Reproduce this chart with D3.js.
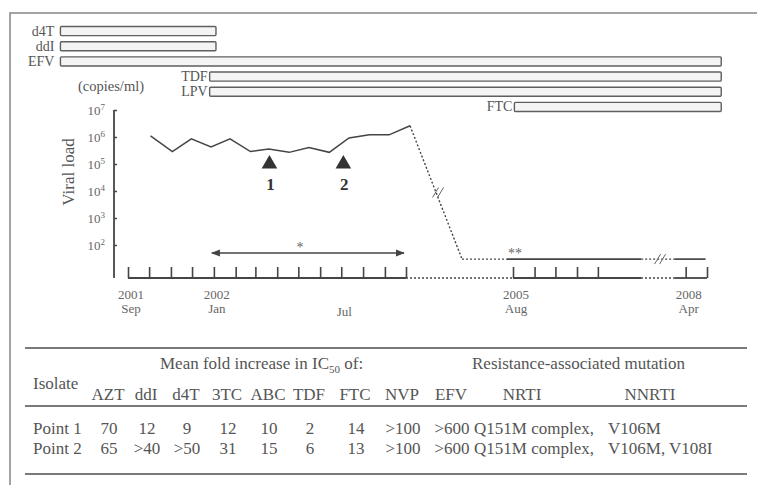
<!DOCTYPE html>
<html><head><meta charset="utf-8">
<script src="https://cdn.jsdelivr.net/npm/d3@7"></script>
<style>
body{margin:0;background:#fff}
svg{display:block}
text{font-family:"Liberation Serif","Times New Roman",serif}
</style>
</head><body>
<svg id="c" width="757" height="485"></svg>
<script>
// ---------- data ----------
const drugs      = ["d4T","ddI","EFV","TDF","LPV","FTC"];
const drugStart  = ["2001-05-28","2001-05-28","2001-05-28","2001-12-26","2001-12-26","2005-08-03"];
const drugEnd    = ["2002-01-04","2002-01-04","2008-05-21","2008-05-21","2008-05-21","2008-05-21"];

const loadDates  = ["2001-10-03","2001-11-03","2001-11-30","2001-12-28","2002-01-24","2002-02-22","2002-03-20",
                    "2002-04-18","2002-05-16","2002-06-14","2002-07-12","2002-08-10","2002-09-07","2002-11-09"];
const loadValues = [1.1e6, 2.9e5, 8.5e5, 4.3e5, 8.5e5, 2.9e5, 3.6e5, 2.7e5, 4.1e5, 2.7e5, 9.2e5, 1.2e6, 1.2e6, 2.6e6];

const undetectDates = ["2004-03-26","2005-06-04","2006-02-04","2008-03-17","2008-04-29"];
const undetectValue = 30;

const isolateLabels = ["1","2"];
const isolateDates  = ["2002-03-21","2002-07-04"];
const isolateLevel  = 1e5;

const arrowPeriod = ["2002-01-01","2002-10-01"];

const yTicks = [1e2,1e3,1e4,1e5,1e6,1e7];
const tickRanges = [["2001-09-01","2002-10-01"],["2005-08-01","2005-12-01"],["2008-04-01","2008-05-01"]];
const labelDates  = ["2001-09-01","2002-01-01","2002-07-01","2005-08-01","2008-04-01"];
const labelYears  = ["2001","2002","","2005","2008"];
const labelMonths = ["Sep","Jan","Jul","Aug","Apr"];

const tableDrugs = ["AZT","ddI","d4T","3TC","ABC","TDF","FTC","NVP","EFV"];
const isolates   = ["Point 1","Point 2"];
const fold1 = ["70","12","9","12","10","2","14",">100",">600"];
const fold2 = ["65",">40",">50","31","15","6","13",">100",">600"];
const nrti  = ["Q151M complex,","Q151M complex,"];
const nnrti = ["V106M","V106M, V108I"];

// ---------- layout ----------
const P = d3.utcParse("%Y-%m-%d");
const svg = d3.select("#c");
const TXT = "#555", LN = "#454545";

// outer frame
svg.append("rect").attr("x",10).attr("y",13).attr("width",800).attr("height",520)
  .attr("fill","none").attr("stroke","#8c8c8c").attr("stroke-width",1.6);

// broken time scale
const x = d3.scaleUtc()
  .domain(["2001-09-01","2002-10-01","2005-08-01","2006-02-01","2008-03-17","2008-05-01"].map(P))
  .range([128,406,513,641,675,707]);
const y = d3.scaleLog().domain([1e2,1e7]).range([245,110]);
const axisY = 278, axisX = 114;

// drug bars
const band = d3.scaleBand().domain(drugs).range([25,113]).paddingInner(0.4).paddingOuter(0.1);
const bars = svg.append("g");
drugs.forEach((d,i)=>{
  const x0 = x(P(drugStart[i])), x1 = x(P(drugEnd[i]));
  bars.append("rect").attr("x",x0).attr("y",band(d)).attr("width",x1-x0).attr("height",band.bandwidth())
    .attr("rx",1).attr("fill","#f4f4f4").attr("stroke","#5f5f5f").attr("stroke-width",1.4);
  bars.append("text").attr("x",x0-(i<3?6:2)).attr("y",band(d)+band.bandwidth()/2+4.5)
    .attr("text-anchor","end").attr("font-size",14).attr("fill",TXT).text(d);
});

svg.append("text").attr("x",78).attr("y",91).attr("font-size",14.5).attr("fill",TXT).text("(copies/ml)");

// y axis
const gy = svg.append("g").attr("transform",`translate(${axisX},0)`)
  .call(d3.axisLeft(y).tickValues(yTicks).tickSize(-3).tickPadding(9).tickFormat(""));
gy.select(".domain").remove();
gy.selectAll(".tick line").attr("stroke",LN).attr("stroke-width",1.5);
gy.selectAll(".tick text").attr("font-size",13).attr("fill","#666")
  .attr("font-family","Liberation Serif, serif")
  .each(function(d){
    const t = d3.select(this);
    t.text("10");
    t.append("tspan").attr("dy",-5).attr("font-size",9).text(Math.round(Math.log10(d)));
  });
svg.append("line").attr("x1",axisX).attr("x2",axisX).attr("y1",y(1e7)).attr("y2",axisY)
  .attr("stroke",LN).attr("stroke-width",1.8);
svg.append("text").attr("transform","translate(74,172) rotate(-90)").attr("text-anchor","middle")
  .attr("font-size",17).attr("fill",TXT).text("Viral load");

// x axis
let tickDates = [];
tickRanges.forEach(r=>{ tickDates = tickDates.concat(d3.utcMonth.range(P(r[0]), d3.utcDay.offset(P(r[1]),1))); });
const gx = svg.append("g").attr("transform",`translate(0,${axisY})`)
  .call(d3.axisBottom(x).tickValues(tickDates).tickSize(-11).tickFormat(""));
gx.select(".domain").remove();
gx.selectAll(".tick line").attr("stroke",LN).attr("stroke-width",1.6);
const segs = [["2001-09-01","2002-10-01",false],["2002-10-01","2005-08-01",true],
              ["2005-08-01","2006-02-01",false],["2006-02-01","2008-03-17",true],["2008-03-17","2008-05-01",false]];
segs.forEach(s=>{
  svg.append("line").attr("x1",x(P(s[0]))).attr("x2",x(P(s[1]))).attr("y1",axisY).attr("y2",axisY)
    .attr("stroke",LN).attr("stroke-width",s[2]?1.3:1.8).attr("stroke-dasharray",s[2]?"2,2":null);
});
labelDates.forEach((d,i)=>{
  const xx = x(P(d))+3;
  if(labelYears[i]){
    svg.append("text").attr("x",xx).attr("y",299).attr("text-anchor","middle").attr("font-size",13).attr("fill","#666").text(labelYears[i]);
    svg.append("text").attr("x",xx).attr("y",313).attr("text-anchor","middle").attr("font-size",13).attr("fill","#666").text(labelMonths[i]);
  } else {
    svg.append("text").attr("x",xx).attr("y",316).attr("text-anchor","middle").attr("font-size",13).attr("fill","#666").text(labelMonths[i]);
  }
});

// viral load line
const pts = loadDates.map((d,i)=>[x(P(d)), y(loadValues[i])]);
svg.append("path").attr("d",d3.line()(pts)).attr("fill","none").attr("stroke",LN).attr("stroke-width",1.5);

// descent and undetectable
const u = undetectDates.map(d=>[x(P(d)), y(undetectValue)]);
const last = pts[pts.length-1];
svg.append("path").attr("d",d3.line()([last,u[0]])).attr("fill","none").attr("stroke",LN)
  .attr("stroke-width",1.4).attr("stroke-dasharray","2,2");
[[0,1,true],[1,2,false],[2,3,true],[3,4,false]].forEach(s=>{
  svg.append("path").attr("d",d3.line()([u[s[0]],u[s[1]]])).attr("fill","none").attr("stroke",LN)
    .attr("stroke-width",s[2]?1.4:1.7).attr("stroke-dasharray",s[2]?"2,2":null);
});
function breakMark(cx,cy){
  [-2.5,2.5].forEach(o=>{
    svg.append("line").attr("x1",cx+o-3).attr("y1",cy+5).attr("x2",cx+o+3).attr("y2",cy-5)
      .attr("stroke","#666").attr("stroke-width",1);
  });
}
breakMark((last[0]+u[0][0])/2+2,(last[1]+u[0][1])/2);
breakMark((u[2][0]+u[3][0])/2+2,u[2][1]);
svg.append("text").attr("x",u[1][0]+1).attr("y",u[1][1]-1).attr("font-size",14).attr("fill","#666").text("**");

// isolates
isolateDates.forEach((d,i)=>{
  const cx = x(P(d)), cy = y(isolateLevel);
  svg.append("path").attr("d",d3.symbol().type(d3.symbolTriangle).size(105)())
    .attr("transform",`translate(${cx},${cy})`).attr("fill","#333");
  svg.append("text").attr("x",cx+1).attr("y",cy+26).attr("text-anchor","middle")
    .attr("font-size",17).attr("font-weight","bold").attr("fill","#333").text(isolateLabels[i]);
});

// arrow
svg.append("defs").append("marker").attr("id","ah").attr("viewBox","0 0 10 10").attr("refX",9).attr("refY",5)
  .attr("markerWidth",9).attr("markerHeight",9).attr("markerUnits","userSpaceOnUse").attr("orient","auto-start-reverse")
  .append("path").attr("d","M0,1 L10,5 L0,9 Z").attr("fill","#444");
const ay = y(1e2)+8;
svg.append("line").attr("x1",x(P(arrowPeriod[0]))-2).attr("x2",x(P(arrowPeriod[1]))-2).attr("y1",ay).attr("y2",ay)
  .attr("stroke","#444").attr("stroke-width",1.5).attr("marker-start","url(#ah)").attr("marker-end","url(#ah)");
svg.append("text").attr("x",300).attr("y",ay-1).attr("text-anchor","middle").attr("font-size",14).attr("fill","#666").text("*");

// ---------- table ----------
const tl = [348,406,474];
tl.forEach(v=>svg.append("line").attr("x1",25).attr("x2",747).attr("y1",v).attr("y2",v)
  .attr("stroke","#7a7a7a").attr("stroke-width",2));
const FS = 17;
const colX = [108,146,186,227,268,309,355,402,451];
const t = (xx,yy,s,anchor)=>svg.append("text").attr("x",xx).attr("y",yy).attr("font-size",FS)
  .attr("fill",TXT).attr("text-anchor",anchor||"start").text(s);
const h1 = t(160,369,"Mean fold increase in IC");
h1.append("tspan").attr("font-size",11).attr("dy",4).text("50");
h1.append("tspan").attr("dy",-4).text(" of:");
t(472,369,"Resistance-associated mutation");
t(33,389,"Isolate");
tableDrugs.forEach((d,i)=>t(colX[i],400,d,"middle"));
t(522,400,"NRTI","middle");
t(650,400,"NNRTI","middle");
[fold1,fold2].forEach((row,r)=>{
  const yy = 434 + r*20;
  t(33,yy,isolates[r]);
  row.forEach((v,i)=>t(colX[i]+1,yy,v,"middle"));
  t(474,yy,nrti[r]);
  t(608,yy,nnrti[r]);
});
</script>
</body></html>
